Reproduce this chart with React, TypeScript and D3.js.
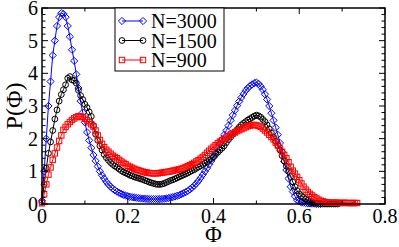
import { useEffect } from "react";
import * as d3 from "d3";

// Φ grid: one value per step, starting at Φ = 0
const PHI_STEP = 0.005;

const n3000 = [
  0.1, 1.0, 2.0, 3.0, 3.75, 4.55, 5.0, 5.45, 5.72, 5.84, 5.82, 5.72, 5.45, 5.12, 4.72, 4.38, 3.97,
  3.55, 3.15, 2.8, 2.5, 2.2, 1.95, 1.72, 1.5, 1.32, 1.15, 1.0, 0.88, 0.78, 0.68, 0.6, 0.53, 0.47,
  0.42, 0.38, 0.34, 0.31, 0.28, 0.26, 0.24, 0.22, 0.21, 0.2, 0.19, 0.18, 0.17, 0.165, 0.16, 0.155,
  0.15, 0.15, 0.15, 0.15, 0.15, 0.15, 0.155, 0.16, 0.17, 0.18, 0.2, 0.21, 0.23, 0.25, 0.27, 0.3,
  0.33, 0.36, 0.4, 0.45, 0.5, 0.56, 0.63, 0.71, 0.8, 0.9, 1.0, 1.1, 1.21, 1.32, 1.43, 1.57, 1.7,
  1.84, 1.98, 2.12, 2.25, 2.4, 2.56, 2.72, 2.87, 3.01, 3.14, 3.26, 3.37, 3.47, 3.55, 3.61, 3.66,
  3.7, 3.72, 3.68, 3.6, 3.5, 3.36, 3.2, 3.0, 2.78, 2.56, 2.34, 2.12, 1.87, 1.6, 1.3, 1.04, 0.78,
  0.53, 0.38, 0.24, 0.12, 0.08, 0.05, 0.04, 0.03, 0.02, 0.02, 0.01, 0.01, 0.0, 0.0, 0.0,
];

const n1500 = [
  0.05, 0.6, 1.1, 1.55, 1.9, 2.25, 2.6, 2.88, 3.15, 3.35, 3.5, 3.65, 3.85, 3.9, 3.8, 3.78, 3.7,
  3.48, 3.32, 3.2, 3.05, 2.95, 2.82, 2.68, 2.4, 2.14, 1.95, 1.78, 1.65, 1.52, 1.42, 1.34, 1.27,
  1.21, 1.16, 1.12, 1.07, 1.02, 0.98, 0.95, 0.92, 0.88, 0.86, 0.83, 0.81, 0.79, 0.77, 0.75, 0.72,
  0.7, 0.67, 0.65, 0.63, 0.61, 0.6, 0.6, 0.61, 0.63, 0.66, 0.69, 0.72, 0.74, 0.77, 0.8, 0.83, 0.86,
  0.89, 0.92, 0.95, 0.99, 1.02, 1.05, 1.09, 1.13, 1.17, 1.21, 1.25, 1.29, 1.34, 1.39, 1.45, 1.52,
  1.58, 1.65, 1.71, 1.78, 1.88, 1.97, 2.05, 2.13, 2.21, 2.28, 2.35, 2.42, 2.47, 2.52, 2.57, 2.61,
  2.65, 2.69, 2.72, 2.7, 2.66, 2.59, 2.52, 2.42, 2.3, 2.18, 2.05, 1.92, 1.79, 1.65, 1.48, 1.32,
  1.16, 1.0, 0.84, 0.67, 0.53, 0.41, 0.31, 0.25, 0.2, 0.15, 0.11, 0.07, 0.04, 0.03, 0.02, 0.01,
  0.01, 0.0, 0.0, 0.0, 0.0, 0.0, 0.0, 0.0, 0.0,
];

const n900 = [
  0.02, 0.3, 0.6, 0.9, 1.12, 1.35, 1.55, 1.73, 1.93, 2.1, 2.27, 2.36, 2.44, 2.51, 2.57, 2.62, 2.66,
  2.69, 2.68, 2.66, 2.61, 2.56, 2.5, 2.44, 2.37, 2.25, 2.1, 1.96, 1.84, 1.74, 1.66, 1.6, 1.54, 1.48,
  1.44, 1.4, 1.35, 1.3, 1.26, 1.22, 1.17, 1.14, 1.11, 1.08, 1.05, 1.03, 1.01, 0.99, 0.97, 0.96,
  0.95, 0.94, 0.94, 0.94, 0.94, 0.95, 0.96, 0.97, 0.98, 0.99, 1.0, 1.02, 1.03, 1.05, 1.06, 1.08,
  1.1, 1.13, 1.16, 1.19, 1.22, 1.26, 1.3, 1.34, 1.39, 1.44, 1.5, 1.57, 1.63, 1.69, 1.75, 1.8, 1.86,
  1.91, 1.95, 1.99, 2.03, 2.08, 2.12, 2.16, 2.19, 2.23, 2.26, 2.29, 2.32, 2.35, 2.38, 2.4, 2.42,
  2.42, 2.41, 2.39, 2.36, 2.31, 2.25, 2.19, 2.12, 2.05, 1.98, 1.88, 1.79, 1.7, 1.6, 1.5, 1.4, 1.28,
  1.14, 1.02, 0.93, 0.83, 0.73, 0.63, 0.53, 0.44, 0.37, 0.31, 0.26, 0.21, 0.17, 0.13, 0.1, 0.08,
  0.06, 0.05, 0.04, 0.04, 0.04, 0.04, 0.04, 0.03, 0.03, 0.04, 0.03, 0.03, 0.03, 0.03, 0.03, 0.03,
];

const xTicks = [0, 0.2, 0.4, 0.6, 0.8];
const xMinor = [0.1, 0.3, 0.5, 0.7];
const yTicks = [0, 1, 2, 3, 4, 5, 6];

const series = [
  { name: "N=3000", values: n3000, color: "#0000ff", symbol: "diamond" },
  { name: "N=1500", values: n1500, color: "#000000", symbol: "circle" },
  { name: "N=900", values: n900, color: "#ff0000", symbol: "square" },
];

const W = 399;
const H = 247;
const margin = { top: 8, right: 14, bottom: 43, left: 42 };
const FONT = "Liberation Serif, Times New Roman, DejaVu Serif, serif";

const x = d3.scaleLinear().domain([0, 0.8]).range([margin.left, W - margin.right]);
const y = d3.scaleLinear().domain([0, 6]).range([H - margin.bottom, margin.top]);

function marker(kind: string, cx: number, cy: number, color: string, key: string | number) {
  if (kind === "circle")
    return <circle key={key} cx={cx} cy={cy} r={2.9} fill="none" stroke={color} strokeWidth={1} />;
  if (kind === "square")
    return (
      <rect key={key} x={cx - 2.7} y={cy - 2.7} width={5.4} height={5.4} fill="none" stroke={color} strokeWidth={1} />
    );
  const r = 3.6;
  return (
    <path
      key={key}
      d={`M${cx},${cy - r}L${cx + r},${cy}L${cx},${cy + r}L${cx - r},${cy}Z`}
      fill="none"
      stroke={color}
      strokeWidth={1}
    />
  );
}

export default function App() {
  useEffect(() => {
    document.body.style.margin = "0";
  }, []);

  const line = d3
    .line<number>()
    .x((_, i) => x(i * PHI_STEP))
    .y((d) => y(d));

  const x0 = margin.left;
  const x1 = W - margin.right;
  const y0 = H - margin.bottom;
  const y1 = margin.top;
  const yMinor = d3.range(0, 6.001, 0.2).filter((v) => Math.abs(v - Math.round(v)) > 0.01);

  return (
    <svg width={W} height={H} style={{ display: "block", fontFamily: FONT }}>
      <rect width={W} height={H} fill="#fff" />

      {series.map((s) => (
        <g key={s.name}>
          <path d={line(s.values) ?? ""} fill="none" stroke={s.color} strokeWidth={1} />
          {s.values.map((v, i) => marker(s.symbol, x(i * PHI_STEP), y(v), s.color, i))}
        </g>
      ))}

      {/* ticks, pointing inward on all four sides */}
      <g stroke="#000" strokeWidth={1}>
        {xTicks.map((t) => (
          <g key={"xt" + t}>
            <line x1={x(t)} x2={x(t)} y1={y0} y2={y0 - 6} />
            <line x1={x(t)} x2={x(t)} y1={y1} y2={y1 + 6} />
          </g>
        ))}
        {xMinor.map((t) => (
          <g key={"xm" + t}>
            <line x1={x(t)} x2={x(t)} y1={y0} y2={y0 - 3.5} />
            <line x1={x(t)} x2={x(t)} y1={y1} y2={y1 + 3.5} />
          </g>
        ))}
        {yTicks.map((t) => (
          <g key={"yt" + t}>
            <line x1={x0} x2={x0 + 6} y1={y(t)} y2={y(t)} />
            <line x1={x1} x2={x1 - 6} y1={y(t)} y2={y(t)} />
          </g>
        ))}
        {yMinor.map((t) => (
          <g key={"ym" + t}>
            <line x1={x0} x2={x0 + 3.5} y1={y(t)} y2={y(t)} />
            <line x1={x1} x2={x1 - 3.5} y1={y(t)} y2={y(t)} />
          </g>
        ))}
      </g>

      <rect x={x0} y={y1} width={x1 - x0} height={y0 - y1} fill="none" stroke="#000" strokeWidth={1.5} />

      {xTicks.map((t) => (
        <text key={"xl" + t} x={x(t)} y={y0 + 19} textAnchor="middle" fontSize={20}>
          {t === 0 ? "0" : t.toFixed(1)}
        </text>
      ))}
      {yTicks.map((t) => (
        <text key={"yl" + t} x={x0 - 4} y={y(t) + 7} textAnchor="end" fontSize={20}>
          {t}
        </text>
      ))}

      <text x={(x0 + x1) / 2} y={H - 5} textAnchor="middle" fontSize={23}>
        Φ
      </text>
      <text
        transform={`translate(22,${(y0 + y1) / 2}) rotate(-90)`}
        textAnchor="middle"
        fontSize={24}
      >
        P(Φ)
      </text>

      {/* legend */}
      <g>
        <rect x={115} y={y1} width={109} height={63} fill="#fff" stroke="#000" strokeWidth={1} />
        {series.map((s, i) => {
          const ly = 21 + i * 19.5;
          return (
            <g key={"lg" + s.name}>
              <line x1={122} x2={143} y1={ly} y2={ly} stroke={s.color} strokeWidth={1} />
              {marker(s.symbol, 122, ly, s.color, "a")}
              {marker(s.symbol, 143, ly, s.color, "b")}
              <text x={151} y={ly + 7} fontSize={20}>
                {s.name}
              </text>
            </g>
          );
        })}
      </g>
    </svg>
  );
}
